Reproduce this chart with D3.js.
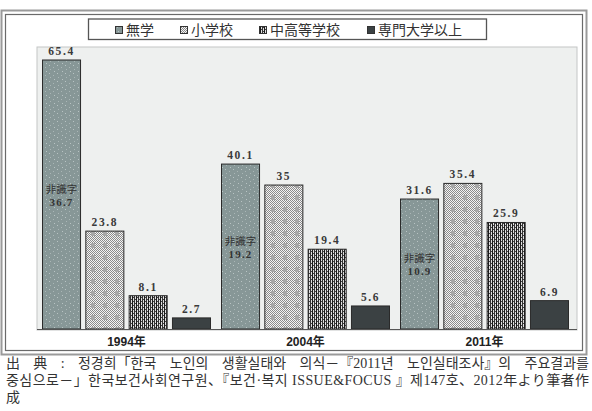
<!DOCTYPE html>
<html>
<head>
<meta charset="utf-8">
<script src="https://cdn.jsdelivr.net/npm/d3@7"></script>
<style>
  html, body { margin: 0; padding: 0; background: #fff; }
  svg { display: block; }
</style>
</head>
<body>
<div id="chart"></div>
<script>
// ---- data ----
const years = ["1994年", "2004年", "2011年"];
const series = ["無学", "小学校", "中高等学校", "専門大学以上"];
const mugaku = [65.4, 40.1, 31.6];
const shogakko = [23.8, 35, 35.4];
const chukoto = [8.1, 19.4, 25.9];
const senmon = [2.7, 5.6, 6.9];
const illiterate = [36.7, 19.2, 10.9];
const illiterateLabel = "非識字";
const footLine1Words = ["出", "典", ":", "정경희「한국", "노인의", "생활실태와", "의식－『2011년", "노인실태조사』의", "주요결과를"];
const footLine2 = "중심으로－」한국보건사회연구원、『보건·복지 ISSUE&FOCUS 』제147호、2012年より筆者作";
const footLine3 = "成";

const valuesBySeries = [mugaku, shogakko, chukoto, senmon];
const rows = [];
series.forEach((s, si) => years.forEach((y, yi) => rows.push({ s, si, y, yi, v: valuesBySeries[si][yi] })));

const W = 592, H = 411;
const svg = d3.select("#chart").append("svg").attr("width", W).attr("height", H);
const defs = svg.append("defs");

// patterns
const p0 = defs.append("pattern").attr("id", "pat0").attr("patternUnits", "userSpaceOnUse").attr("width", 8).attr("height", 8);
p0.append("rect").attr("width", 8).attr("height", 8).attr("fill", "#879797");
p0.append("rect").attr("x", 1).attr("y", 1).attr("width", 1).attr("height", 1).attr("fill", "#b9c4c4");
p0.append("rect").attr("x", 5).attr("y", 3).attr("width", 1).attr("height", 1).attr("fill", "#aab6b6");
p0.append("rect").attr("x", 2).attr("y", 5).attr("width", 1).attr("height", 1).attr("fill", "#aab6b6");
p0.append("rect").attr("x", 6).attr("y", 7).attr("width", 1).attr("height", 1).attr("fill", "#b9c4c4");

const p1 = defs.append("pattern").attr("id", "pat1").attr("patternUnits", "userSpaceOnUse").attr("width", 12).attr("height", 12);
p1.append("rect").attr("width", 12).attr("height", 12).attr("fill", "#f4f4f4");
for (let i = 0; i < 12; i++) for (let j = 0; j < 12; j++) {
  if ((i + j) % 2 === 0) p1.append("rect").attr("x", i).attr("y", j).attr("width", 1).attr("height", 1).attr("fill", "#8a8a8a");
}
p1.append("rect").attr("x", 7).attr("y", 3).attr("width", 4).attr("height", 5).attr("fill", "#a8a8a8");

const p2 = defs.append("pattern").attr("id", "pat2").attr("patternUnits", "userSpaceOnUse").attr("width", 4).attr("height", 4);
p2.append("rect").attr("width", 4).attr("height", 4).attr("fill", "#e0e0e0");
p2.append("rect").attr("x", 0).attr("y", 0).attr("width", 1).attr("height", 4).attr("fill", "#1a1a1a");
p2.append("rect").attr("x", 2).attr("y", 0).attr("width", 1).attr("height", 4).attr("fill", "#333");
p2.append("rect").attr("x", 1).attr("y", 1).attr("width", 1).attr("height", 1).attr("fill", "#444");
p2.append("rect").attr("x", 3).attr("y", 3).attr("width", 1).attr("height", 1).attr("fill", "#444");

const fills = ["url(#pat0)", "url(#pat1)", "url(#pat2)", "#3b4143"];

// frame
svg.append("rect").attr("x", 1.5).attr("y", 10.5).attr("width", 585).attr("height", 344)
  .attr("fill", "#fff").attr("stroke", "#9a9a9a").attr("stroke-width", 2);
svg.append("rect").attr("x", 5.5).attr("y", 14.5).attr("width", 577).attr("height", 336)
  .attr("fill", "none").attr("stroke", "#6a6a6a").attr("stroke-width", 1.2);

// plot area
const plotL = 37, plotR = 577, plotT = 47, baseY = 329;
svg.append("rect").attr("x", plotL).attr("y", plotT).attr("width", plotR - plotL).attr("height", baseY - plotT + 1)
  .attr("fill", "#eef0ef").attr("stroke", "#c4c6c6").attr("stroke-width", 1);

const x0 = d3.scaleBand().domain(years).range([37, 574]);
const x1 = d3.scaleBand().domain(series).range([5.5, 173.5]).paddingInner(0.122);
const y = d3.scaleLinear().domain([0, 70]).range([baseY, baseY - 70 * 4.113]);

// bars
const g = svg.append("g");
g.selectAll("rect.bar").data(rows).join("rect")
  .attr("class", "bar")
  .attr("x", d => x0(d.y) + x1(d.s))
  .attr("y", d => y(d.v))
  .attr("width", x1.bandwidth())
  .attr("height", d => y(0) - y(d.v))
  .attr("fill", d => fills[d.si])
  .attr("stroke", "#2a2a2a").attr("stroke-width", 1);

// value labels
g.selectAll("text.val").data(rows).join("text")
  .attr("class", "val")
  .attr("x", d => x0(d.y) + x1(d.s) + x1.bandwidth() / 2)
  .attr("y", d => y(d.v) - 5)
  .attr("text-anchor", "middle")
  .attr("font-family", "'Liberation Serif', 'DejaVu Serif', serif")
  .attr("font-weight", "bold")
  .attr("font-size", 11.5)
  .attr("letter-spacing", 1.6)
  .attr("fill", "#3a3a3a")
  .text(d => String(d.v));

// illiterate labels inside 無学 bars
years.forEach((yr, i) => {
  const cx = x0(yr) + x1(series[0]) + x1.bandwidth() / 2;
  const mid = (y(mugaku[i]) + y(0)) / 2;
  g.append("text").attr("x", cx).attr("y", mid - 2).attr("text-anchor", "middle")
    .attr("font-family", "'Noto Sans CJK JP', sans-serif").attr("font-size", 10.5).attr("fill", "#333")
    .text(illiterateLabel);
  g.append("text").attr("x", cx).attr("y", mid + 11).attr("text-anchor", "middle")
    .attr("font-family", "'Liberation Serif', serif").attr("font-weight", "bold").attr("font-size", 11)
    .attr("letter-spacing", 1.2).attr("fill", "#333")
    .text(String(illiterate[i]));
});

// baseline
svg.append("line").attr("x1", plotL).attr("x2", plotR).attr("y1", baseY + 0.5).attr("y2", baseY + 0.5)
  .attr("stroke", "#555").attr("stroke-width", 1.2);

// category axis labels
const xAxis = d3.axisBottom(x0).tickSize(0).tickPadding(0);
const ax = svg.append("g").attr("transform", `translate(0, ${baseY + 9})`).call(xAxis);
ax.select(".domain").remove();
ax.selectAll("text").attr("font-family", "'Liberation Sans', 'Noto Sans CJK JP', sans-serif")
  .attr("font-weight", "bold").attr("font-size", 12).attr("fill", "#222").attr("dy", "0.7em");

// legend
svg.append("rect").attr("x", 88.5).attr("y", 19).attr("width", 398).attr("height", 20.5)
  .attr("fill", "#fff").attr("stroke", "#555").attr("stroke-width", 1.3);
const legX = [115, 180, 259, 367];
const leg = svg.append("g");
series.forEach((s, i) => {
  leg.append("rect").attr("x", legX[i] + 0.5).attr("y", 26.5).attr("width", 7).attr("height", 7)
    .attr("fill", fills[i]).attr("stroke", "#333").attr("stroke-width", 1);
  leg.append("text").attr("x", legX[i] + 11).attr("y", 35)
    .attr("font-family", "'Noto Sans CJK JP', sans-serif").attr("font-size", 14).attr("fill", "#333")
    .text(s);
});

// footnote
const foot = svg.append("g").attr("font-family", "'Liberation Serif', 'Noto Sans CJK KR', serif")
  .attr("font-size", 14).attr("fill", "#333");
// line 1: justified by words between x=6 and x=590
const left = 6, right = 589;
const wordEls = footLine1Words.map(w => foot.append("text").attr("y", 368).text(w));
const widths = wordEls.map(e => e.node().getComputedTextLength());
const totalW = d3.sum(widths);
const gap = (right - left - totalW) / (footLine1Words.length - 1);
let cx = left;
wordEls.forEach((e, i) => { e.attr("x", cx); cx += widths[i] + gap; });
// line 2
foot.append("text").attr("x", left).attr("y", 385).text(footLine2)
  .attr("textLength", right - left).attr("lengthAdjust", "spacing");
// line 3
foot.append("text").attr("x", left).attr("y", 402).text(footLine3);
</script>
</body>
</html>
